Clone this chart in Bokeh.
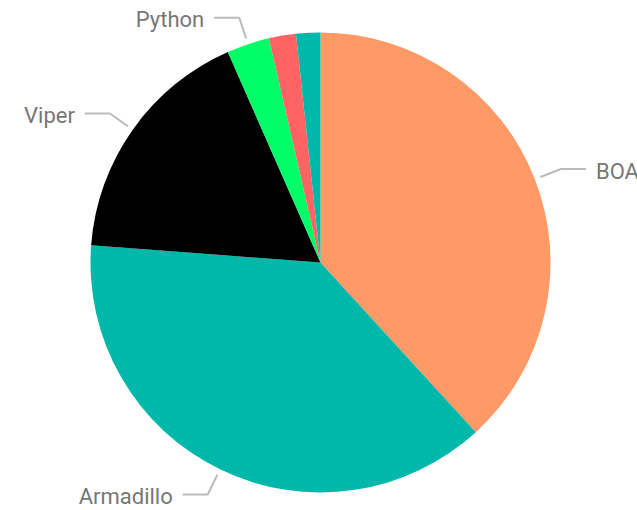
import numpy as np
from bokeh.plotting import figure
from bokeh.models import ColumnDataSource
from bokeh.core.properties import value
from bokeh.embed import file_html
from bokeh.resources import INLINE

# Data (clockwise from 12 o'clock)
categories = ["BOA", "Armadillo", "Viper", "Python", "Other A", "Other B"]
shares = [38.2, 38.0, 17.2, 3.0, 1.9, 1.7]
colors = ["#FF9966", "#00B8AA", "#000000", "#00FF66", "#FF6363", "#00B8AA"]
label_min_share = 2.5  # smaller slices carry no label

W, H = 637, 510
cx, cy = 320, H - 262
R = 230

vals = np.array(shares, dtype=float)
frac = vals / vals.sum()
cum = np.concatenate([[0], np.cumsum(frac)]) * 2 * np.pi  # clockwise from top
start = np.pi / 2 - cum[:-1]
end = np.pi / 2 - cum[1:]

p = figure(width=W, height=H, x_range=(0, W), y_range=(0, H),
           output_backend="svg", toolbar_location=None, min_border=0,
           outline_line_color=None, background_fill_color="white",
           border_fill_color="white")
p.axis.visible = False
p.grid.visible = False

src = ColumnDataSource(dict(start=start, end=end, color=colors, cat=categories))
p.wedge(x=cx, y=cy, radius=R, start_angle="start", end_angle="end",
        direction="clock", fill_color="color", line_color=None, source=src)

# labels with leader lines
mid = (cum[:-1] + cum[1:]) / 2
lx, ly, tx, ty, txt, align = [], [], [], [], [], []
for i, cat in enumerate(categories):
    if shares[i] < label_min_share:
        continue
    a = mid[i]
    s, c = np.sin(a), np.cos(a)
    x0, y0 = cx + 236 * s, cy + 236 * c
    x1, y1 = cx + 258 * s, cy + 258 * c
    d = 1 if s >= 0 else -1
    x2 = x1 + d * 25
    lx.append([x0, x1, x2])
    ly.append([y0, y1, y1])
    tx.append(x2 + d * 10)
    ty.append(y1 - 2)
    txt.append(cat)
    align.append("left" if d > 0 else "right")

p.multi_line(xs=lx, ys=ly, line_color="#BBBBBB", line_width=2)
p.text(x=tx, y=ty, text=txt, text_align=align, text_baseline="middle",
       text_font=value("Roboto"), text_font_size="22px", text_color="#777777")

open("out.html", "w").write(file_html(p, INLINE))
